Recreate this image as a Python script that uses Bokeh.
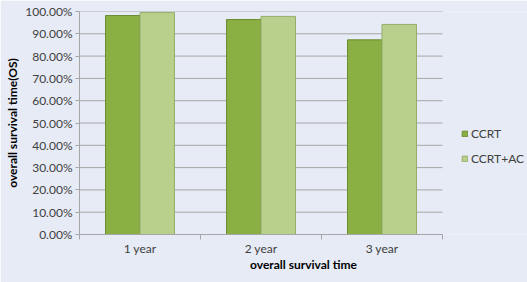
from bokeh.plotting import figure
from bokeh.models import (ColumnDataSource, FixedTicker, NumeralTickFormatter, Legend, LegendItem, Range1d)
from bokeh.embed import file_html
from bokeh.resources import INLINE

categories = ["1 year", "2 year", "3 year"]
ccrt = [0.982, 0.964, 0.873]
ccrt_ac = [0.995, 0.978, 0.942]
y_ticks = [0.0, 0.1, 0.2, 0.3, 0.4, 0.5, 0.6, 0.7, 0.8, 0.9, 1.0]

BG = "#E6EBF5"
FONT = "Lato"
bar_w = 0.285
n = len(categories)

centers = [i + 0.5 for i in range(n)]
src1 = ColumnDataSource(dict(x=[c - bar_w / 2 for c in centers], top=ccrt))
src2 = ColumnDataSource(dict(x=[c + bar_w / 2 for c in centers], top=ccrt_ac))

W, H, LEFT = 527, 282, 79
x_end = n * (W - LEFT) / 363.0  # category area spans 0..n over 363px; extra room for the legend

p = figure(width=W, height=H, output_backend="svg", toolbar_location=None,
           x_range=Range1d(0, x_end), y_range=Range1d(0, 1),
           min_border_left=LEFT, min_border_top=11, min_border_right=0, min_border_bottom=48)
p.background_fill_color = BG
p.border_fill_color = BG
p.outline_line_color = None

# horizontal gridlines only across the category area
p.segment(x0=[0] * len(y_ticks), x1=[n] * len(y_ticks), y0=y_ticks, y1=y_ticks,
          line_color="#A6A6A6", line_width=1, level="underlay")

r1 = p.vbar(x="x", top="top", width=bar_w, source=src1, fill_color="#8AAF42",
            line_color="#6E8C33", line_width=1)
r2 = p.vbar(x="x", top="top", width=bar_w, source=src2, fill_color="#B8D08C",
            line_color="#95AD6A", line_width=1)

p.xgrid.visible = False
p.ygrid.visible = False
p.yaxis.ticker = FixedTicker(ticks=y_ticks)
p.yaxis.formatter = NumeralTickFormatter(format="0.00%")
p.yaxis.major_label_text_font = FONT
p.yaxis.major_label_text_font_size = "12px"
p.yaxis.major_label_text_color = "#404040"
p.yaxis.major_label_standoff = 3
p.yaxis.axis_line_color = "#A6A6A6"
p.yaxis.major_tick_line_color = "#A6A6A6"
p.yaxis.major_tick_out = 4
p.yaxis.major_tick_in = 0
p.yaxis.minor_tick_line_color = None
p.yaxis.axis_label = "overall survival time(OS)"
p.yaxis.axis_label_text_font = FONT
p.yaxis.axis_label_text_font_style = "bold"
p.yaxis.axis_label_text_font_size = "12px"
p.yaxis.axis_label_text_color = "#000000"
p.yaxis.axis_label_standoff = 2

p.xaxis.bounds = (0, n)
p.xaxis.ticker = FixedTicker(ticks=centers, minor_ticks=list(range(n + 1)))
p.xaxis.major_label_overrides = {c: lab for c, lab in zip(centers, categories)}
p.xaxis.major_tick_line_color = None
p.xaxis.major_tick_out = 0
p.xaxis.major_tick_in = 0
p.xaxis.minor_tick_line_color = "#A6A6A6"
p.xaxis.minor_tick_out = 5
p.xaxis.minor_tick_in = 0
p.xaxis.axis_line_color = "#A6A6A6"
p.xaxis.major_label_standoff = 1
p.xaxis.major_label_text_font = FONT
p.xaxis.major_label_text_font_size = "12px"
p.xaxis.major_label_text_color = "#404040"
p.xaxis.axis_label = "overall survival time"
p.xaxis.axis_label_text_font = FONT
p.xaxis.axis_label_text_font_style = "bold"
p.xaxis.axis_label_text_font_size = "12px"
p.xaxis.axis_label_text_color = "#000000"
p.xaxis.axis_label_standoff = -2

legend = Legend(items=[LegendItem(label="CCRT", renderers=[r1]),
                       LegendItem(label="CCRT+AC", renderers=[r2])],
                location=(382, 68), background_fill_alpha=0, border_line_color=None,
                label_text_font=FONT, label_text_font_size="12px", label_text_color="#404040",
                glyph_width=7, glyph_height=7, spacing=10, label_standoff=3, margin=0,
                padding=2, label_height=14)
p.add_layout(legend, "center")

open("out.html", "w").write(file_html(p, INLINE))
